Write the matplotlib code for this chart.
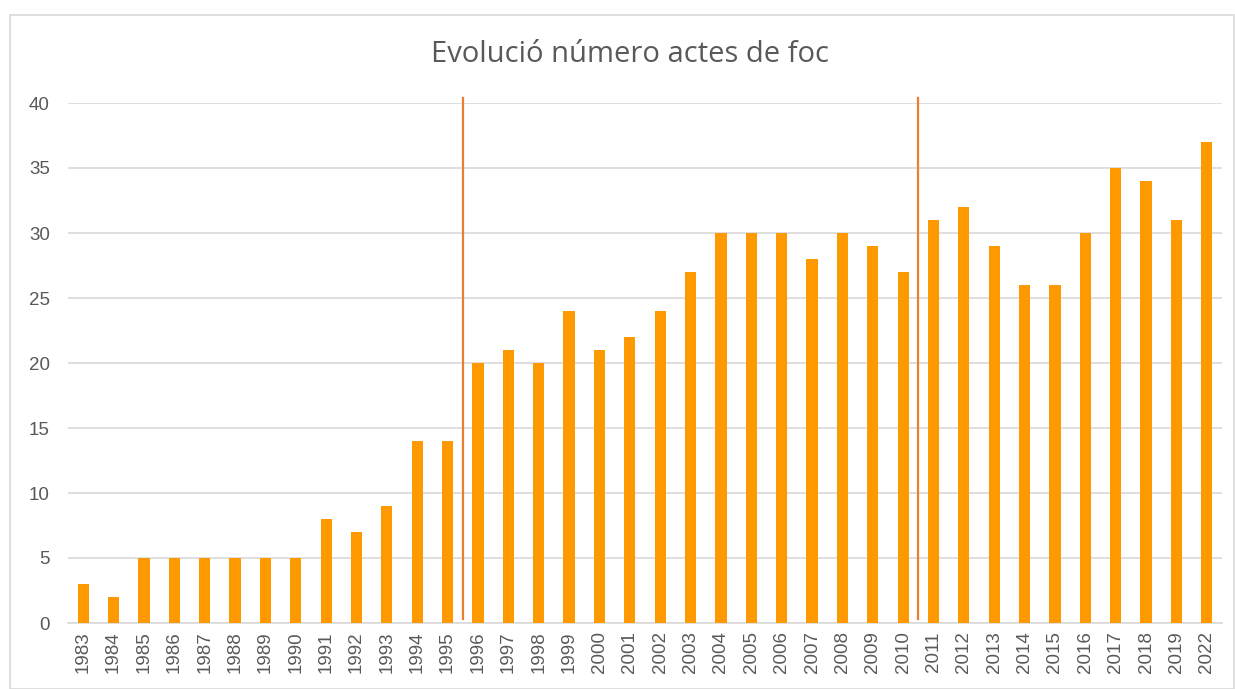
import matplotlib
matplotlib.use("Agg")
import matplotlib.pyplot as plt
from matplotlib.patches import Rectangle
import numpy as np

years = ["1983", "1984", "1985", "1986", "1987", "1988", "1989", "1990", "1991", "1992",
         "1993", "1994", "1995", "1996", "1997", "1998", "1999", "2000", "2001", "2002",
         "2003", "2004", "2005", "2006", "2007", "2008", "2009", "2010", "2011", "2012",
         "2013", "2014", "2015", "2016", "2017", "2018", "2019", "2022"]
values = [3, 2, 5, 5, 5, 5, 5, 5, 8, 7,
          9, 14, 14, 20, 21, 20, 24, 21, 22, 24,
          27, 30, 30, 30, 28, 30, 29, 27, 31, 32,
          29, 26, 26, 30, 35, 34, 31, 37]
# vertical separator lines drawn between these year pairs
separators = [("1995", "1996"), ("2010", "2011")]
title = "Evolució número actes de foc"

fig = plt.figure(figsize=(12.35, 6.89), dpi=100)
fig.patch.set_facecolor("white")
fig.add_artist(Rectangle((10 / 1235, 0), 1 - 10 / 1235 - 0.0005, 1 - 15 / 689,
                         transform=fig.transFigure, fill=False,
                         edgecolor="#D9D9D9", linewidth=1.2))

ax = fig.add_axes([68 / 1235, 1 - 623 / 689, (1222 - 68) / 1235, (623 - 103) / 689])
x = np.arange(len(years))
ax.bar(x, values, width=0.37, color="#FF9900", zorder=3)

ax.set_xlim(-0.5, len(years) - 0.5)
ax.set_ylim(0, 40)
ax.set_yticks(range(0, 41, 5))
ax.yaxis.grid(True, color="#D9D9D9", linewidth=1.2, zorder=0)
ax.set_axisbelow(True)
for s in ["top", "right", "left"]:
    ax.spines[s].set_visible(False)
ax.spines["bottom"].set_color("#D9D9D9")
ax.spines["bottom"].set_linewidth(1.2)
ax.set_xticks(x)
ax.set_xticklabels(years, rotation=90, family="Liberation Sans", fontsize=13.5, color="#595959")
for lab in ax.get_yticklabels():
    lab.set_family("Liberation Sans")
    lab.set_fontsize(13.5)
    lab.set_color("#595959")
ax.tick_params(axis="x", length=0, pad=6)
ax.tick_params(axis="y", length=0, pad=13)

for a, b in separators:
    xs = (years.index(a) + years.index(b)) / 2
    ax.plot([xs, xs], [0.3, 40.35], color="#ED7D31", linewidth=1.6, zorder=4, clip_on=False)

fig.text(630 / 1235, 1 - 55 / 689, title, ha="center", va="center",
         fontsize=21, color="#595959", family="Open Sans")

fig.savefig("out.png", dpi=100)
